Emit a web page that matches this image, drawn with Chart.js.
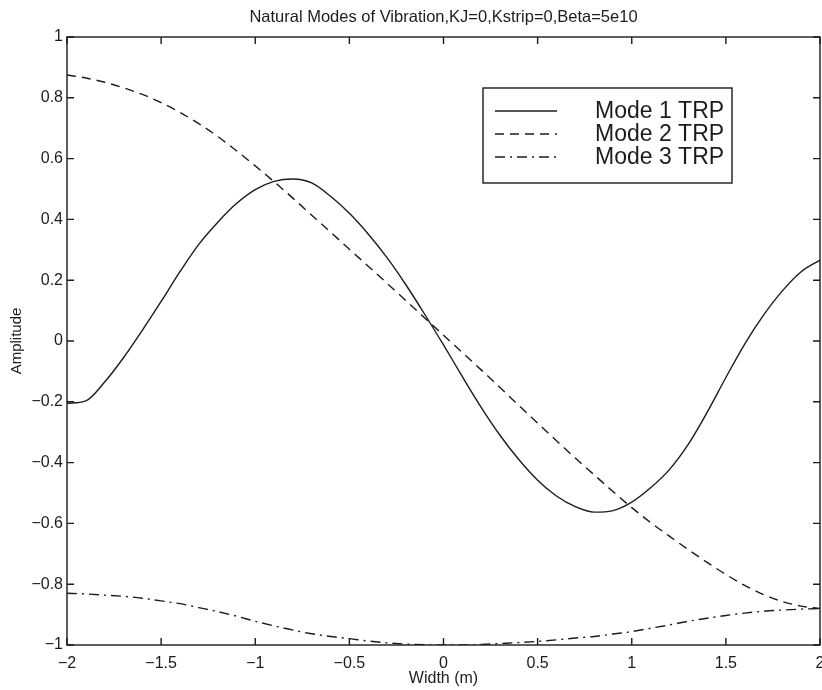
<!DOCTYPE html>
<html>
<head>
<meta charset="utf-8">
<script src="https://cdn.jsdelivr.net/npm/chart.js@4.4.1/dist/chart.umd.min.js"></script>
<style>
html, body { margin: 0; padding: 0; background: #fff; }
#wrap { width: 822px; height: 690px; }
</style>
</head>
<body>
<div id="wrap"><canvas id="chart" width="822" height="690"></canvas></div>
<script>
// Natural modes, шаг 0.1 м
var widthM = [-2.0, -1.9, -1.8, -1.7, -1.6, -1.5, -1.4, -1.3, -1.2, -1.1, -1.0,
              -0.9, -0.8, -0.7, -0.6, -0.5, -0.4, -0.3, -0.2, -0.1, 0.0,
               0.1,  0.2,  0.3,  0.4,  0.5,  0.6,  0.7,  0.8,  0.9, 1.0,
               1.1,  1.2,  1.3,  1.4,  1.5,  1.6,  1.7,  1.8,  1.9, 2.0];

var mode1 = [-0.205, -0.197, -0.135, -0.055, 0.035, 0.130, 0.228, 0.318, 0.390, 0.452, 0.498,
              0.525,  0.533,  0.520,  0.476, 0.420, 0.352, 0.274, 0.185, 0.088, -0.013,
             -0.117, -0.218, -0.310, -0.390, -0.458, -0.510, -0.545, -0.563, -0.558, -0.530,
             -0.483, -0.423, -0.340, -0.235, -0.120, -0.010, 0.085, 0.165, 0.228, 0.266];

var mode2 = [0.875, 0.865, 0.851, 0.833, 0.811, 0.784, 0.752, 0.715, 0.673, 0.626, 0.576,
             0.524, 0.470, 0.414, 0.358, 0.302, 0.246, 0.190, 0.133, 0.076, 0.019,
            -0.038, -0.095, -0.153, -0.212, -0.270, -0.328, -0.385, -0.440, -0.495, -0.548,
            -0.597, -0.642, -0.686, -0.728, -0.768, -0.804, -0.834, -0.857, -0.872, -0.880];

var mode3 = [-0.830, -0.832, -0.836, -0.840, -0.846, -0.855, -0.864, -0.877, -0.890, -0.905, -0.922,
             -0.937, -0.951, -0.963, -0.972, -0.979, -0.987, -0.993, -0.997, -0.999, -1.000,
             -1.000, -0.998, -0.995, -0.992, -0.988, -0.983, -0.977, -0.972, -0.964, -0.956,
             -0.945, -0.934, -0.922, -0.912, -0.903, -0.895, -0.889, -0.885, -0.882, -0.880];

var seriesNames = ['Mode 1 TRP', 'Mode 2 TRP', 'Mode 3 TRP'];
var chartTitle = 'Natural Modes of Vibration,KJ=0,Kstrip=0,Beta=5e10';
var xLabel = 'Width (m)';
var yLabel = 'Amplitude';

var INK = '#1c1c1c';
var FONT = "'Liberation Sans', Arial, Helvetica, sans-serif";

function pts(ys) {
    return widthM.map(function(x, i) { return { x: x, y: ys[i] }; });
}

function fmt(v) {
    var s = String(Math.round(v * 10) / 10);
    return s.replace('-', '\u2212');
}

// рамка, засечки внутрь, заголовок и легенда в стиле MATLAB
var matlabPlugin = {
    id: 'matlabBox',
    afterDraw: function(chart) {
        var ctx = chart.ctx;
        var a = chart.chartArea;
        var xs = chart.scales.x, ys = chart.scales.y;
        var tl = 7;

        ctx.save();
        ctx.strokeStyle = INK;
        ctx.lineWidth = 1.4;
        ctx.strokeRect(a.left, a.top, a.right - a.left, a.bottom - a.top);

        ctx.beginPath();
        xs.ticks.forEach(function(t) {
            var px = xs.getPixelForValue(t.value);
            ctx.moveTo(px, a.bottom); ctx.lineTo(px, a.bottom - tl);
            ctx.moveTo(px, a.top); ctx.lineTo(px, a.top + tl);
        });
        ys.ticks.forEach(function(t) {
            var py = ys.getPixelForValue(t.value);
            ctx.moveTo(a.left, py); ctx.lineTo(a.left + tl, py);
            ctx.moveTo(a.right, py); ctx.lineTo(a.right - tl, py);
        });
        ctx.stroke();

        // заголовок по центру осей
        ctx.fillStyle = INK;
        ctx.font = '16.5px ' + FONT;
        ctx.textAlign = 'center';
        ctx.textBaseline = 'middle';
        ctx.fillText(chartTitle, (a.left + a.right) / 2, 17);

        // легенда
        var bx = a.left + 416, by = a.top + 51, bw = 249, bh = 95;
        ctx.fillStyle = '#fff';
        ctx.fillRect(bx, by, bw, bh);
        ctx.lineWidth = 1.4;
        ctx.strokeRect(bx, by, bw, bh);
        ctx.font = '23px ' + FONT;
        ctx.textAlign = 'left';
        chart.data.datasets.forEach(function(ds, i) {
            var ry = by + 23 + i * 23;
            ctx.beginPath();
            ctx.setLineDash(ds.borderDash || []);
            ctx.lineWidth = ds.borderWidth;
            ctx.strokeStyle = ds.borderColor;
            ctx.moveTo(bx + 12, ry);
            ctx.lineTo(bx + 74, ry);
            ctx.stroke();
            ctx.setLineDash([]);
            ctx.fillStyle = INK;
            ctx.fillText(ds.label, bx + 112, ry + 1);
        });
        ctx.restore();
    }
};

new Chart(document.getElementById('chart'), {
    type: 'line',
    data: {
        datasets: [
            { label: seriesNames[0], data: pts(mode1), borderColor: INK, borderWidth: 1.4, borderDash: [] },
            { label: seriesNames[1], data: pts(mode2), borderColor: INK, borderWidth: 1.4, borderDash: [9, 6] },
            { label: seriesNames[2], data: pts(mode3), borderColor: INK, borderWidth: 1.4, borderDash: [10, 5, 2, 5] },
        ],
    },
    options: {
        responsive: false,
        animation: false,
        devicePixelRatio: 1,
        layout: { padding: { top: 37, right: 2, left: 0, bottom: 0 } },
        elements: {
            point: { radius: 0 },
            line: { cubicInterpolationMode: 'monotone', fill: false },
        },
        plugins: {
            legend: { display: false },
            title: { display: false },
            tooltip: { enabled: false },
        },
        scales: {
            x: {
                type: 'linear',
                min: -2, max: 2,
                grid: { display: false, drawTicks: false },
                border: { display: false },
                ticks: { stepSize: 0.5, padding: 9, color: INK, font: { family: FONT, size: 16 }, callback: fmt, maxRotation: 0 },
                title: { display: true, text: xLabel, color: INK, font: { family: FONT, size: 16 }, padding: { top: 2, bottom: 2 } },
                afterFit: function(s) { s.height = 45; s.paddingRight = 0; s.paddingLeft = 0; },
            },
            y: {
                type: 'linear',
                min: -1, max: 1,
                grid: { display: false, drawTicks: false },
                border: { display: false },
                ticks: { stepSize: 0.2, padding: 4, color: INK, font: { family: FONT, size: 16 }, callback: fmt },
                title: { display: true, text: yLabel, color: INK, font: { family: FONT, size: 15 }, padding: { top: 8, bottom: 0 } },
                afterFit: function(s) { s.width = 67; },
            },
        },
    },
    plugins: [matlabPlugin],
});
</script>
</body>
</html>
